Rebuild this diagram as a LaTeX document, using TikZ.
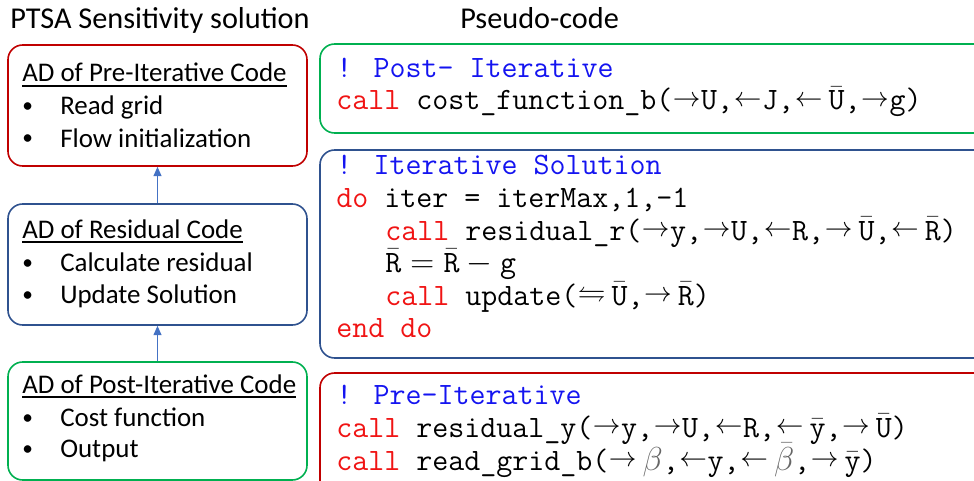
\documentclass[tikz,border=0pt]{standalone}
\usepackage{amssymb}
\usepackage[no-math]{fontspec}
\setmainfont{Carlito}
\newfontfamily\codefont{Latin Modern Mono}
\usetikzlibrary{arrows.meta}
\definecolor{redc}{RGB}{192,0,0}
\definecolor{bluec}{RGB}{47,82,143}
\definecolor{greenc}{RGB}{0,176,80}
\definecolor{arrowc}{RGB}{68,114,196}
\definecolor{kred}{RGB}{240,20,20}
\definecolor{cblue}{RGB}{20,20,240}
\newcommand{\kw}[1]{\textcolor{kred}{#1}}
\newcommand{\cm}[1]{\textcolor{cblue}{#1}}
\newcommand{\tb}[1]{$\bar{\texttt{#1}}$}
\newcommand{\sar}[1]{\kern0.5pt\raisebox{2.3pt}{\fontsize{20.74}{21}\selectfont$#1$}\kern0.5pt}
\newcommand{\ra}{\sar{\rightarrow}}
\newcommand{\la}{\sar{\leftarrow}}
\newcommand{\lrh}{\sar{\leftrightharpoons}}
\newcommand{\gp}{\hspace{4pt}}
\newcommand{\gb}{\textcolor{black!60}}
\begin{document}
\begin{tikzpicture}[x=0.75pt,y=-0.75pt,
  box/.style={draw=#1, line width=1.2pt, rounded corners=11pt, inner sep=0pt},
  lbl/.style={anchor=base west, inner sep=0pt, font=\fontsize{20.2}{24}\selectfont},
  bul/.style={anchor=base west, inner sep=0pt, font=\fontsize{16}{20}\selectfont},
  ttl/.style={anchor=base west, inner sep=0pt, font=\fontsize{22.7}{26}\selectfont},
  code/.style={anchor=base west, inner sep=0pt, font=\codefont\fontsize{23.3}{26}\selectfont},
  arr/.style={draw=arrowc, line width=0.8pt, -{Triangle[length=7pt,width=6pt]}}]
\useasboundingbox (0,0) rectangle (974,481);
\clip (0,0) rectangle (974,481);
% titles
\node[ttl] (t1) at (10,29) {PTSA Sensitivity solution};
\node[ttl] (t2) at (460,29) {Pseudo-code};
% left boxes
\node[box=redc, minimum width=224.25pt, minimum height=90.75pt] (lred) at (157.5,105.5) {};
\node[box=bluec, minimum width=224.25pt, minimum height=90.75pt] (lblue) at (157.5,264.5) {};
\node[box=greenc, minimum width=224.25pt, minimum height=88.5pt] (lgreen) at (157.5,421) {};
\draw[arr] (lblue.north) -- (lred.south);
\draw[arr] (lgreen.north) -- (lblue.south);
% left texts
\node[lbl] (h1) at (22,82) {\underline{AD of Pre-Iterative Code}};
\node[bul] (b11) at (22,113) {•};
\node[lbl] (i11) at (60,115) {Read grid};
\node[bul] (b12) at (22,145) {•};
\node[lbl] (i12) at (60,147) {Flow initialization};
\node[lbl] (h2) at (22,238) {\underline{AD of Residual Code}};
\node[bul] (b21) at (22,269) {•};
\node[lbl] (i21) at (60,271) {Calculate residual};
\node[bul] (b22) at (22,301) {•};
\node[lbl] (i22) at (60,303) {Update Solution};
\node[lbl] (h3) at (22,393) {\underline{AD of Post-Iterative Code}};
\node[bul] (b31) at (22,424) {•};
\node[lbl] (i31) at (60,426) {Cost function};
\node[bul] (b32) at (22,455) {•};
\node[lbl] (i32) at (60,457) {Output};
% right boxes
\node[box=greenc, minimum width=510pt, minimum height=66.75pt] (rgreen) at (660,88.5) {};
\node[box=bluec, minimum width=510pt, minimum height=156pt] (rblue) at (660,254) {};
\node[box=redc, minimum width=510pt, minimum height=102.75pt] (rred) at (660,441.5) {};
% code
\node[code] (g1) at (336,78) {\cm{! Post- Iterative}};
\node[code] (g2) at (336,110) {\kw{call} cost\_function\_b(\ra U,\la J,\la\gp\tb{U},\ra g)};
\node[code] (c1) at (336,175) {\cm{! Iterative Solution}};
\node[code] (c2) at (336,207) {\kw{do} iter = iterMax,1,-1};
\node[code] (c3) at (385,240) {\kw{call} residual\_r(\ra y,\ra U,\la R,\ra\gp\tb{U},\la\gp\tb{R})};
\node[code] (c4) at (385,272) {$\bar{\texttt{R}}=\bar{\texttt{R}}-\texttt{g}$};
\node[code] (c5) at (385,305) {\kw{call} update(\lrh\gp\tb{U},\ra\gp\tb{R})};
\node[code] (c6) at (336,337) {\kw{end do}};
\node[code] (p1) at (336,404) {\cm{! Pre-Iterative}};
\node[code] (p2) at (336,437) {\kw{call} residual\_y(\ra y,\ra U,\la R,\la\gp\tb{y},\ra\gp\tb{U})};
\node[code] (p3) at (336,470) {\kw{call} read\_grid\_b(\ra\gp\gb{$\beta$},\la y,\la\gp\gb{$\bar{\beta}$},\ra\gp\tb{y})};
\end{tikzpicture}
\end{document}
